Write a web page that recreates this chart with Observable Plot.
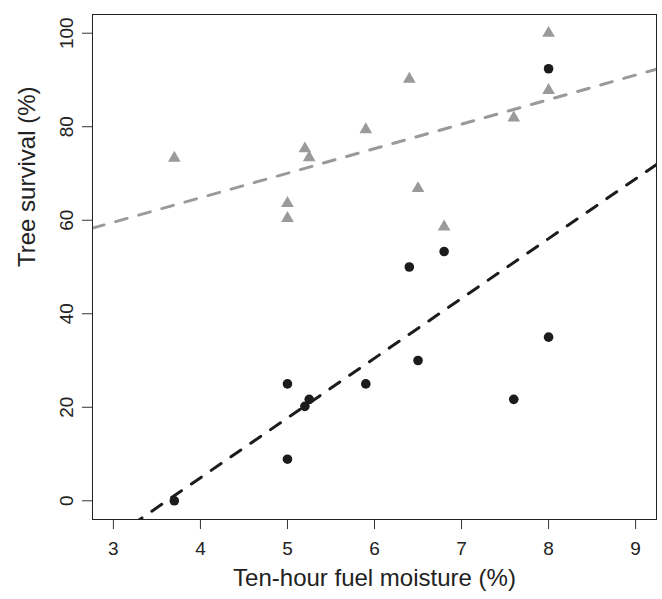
<!DOCTYPE html>
<html>
<head>
<meta charset="utf-8">
<script src="https://cdn.jsdelivr.net/npm/d3@7"></script>
<script src="https://cdn.jsdelivr.net/npm/@observablehq/plot@0.6"></script>
<style>
  html, body { margin: 0; padding: 0; background: #fff; }
  #chart svg { display: block; }
</style>
</head>
<body>
<div id="chart"></div>
<script>
// Ten-hour fuel moisture (%) for each site
const moisture = [3.7, 5, 5, 5.2, 5.25, 5.9, 6.4, 6.5, 6.8, 7.6, 8, 8];
// Tree survival (%) – black circles series
const survivalBlack = [0, 25, 8.9, 20.2, 21.7, 25, 50, 30, 53.3, 21.7, 92.4, 35];
// Tree survival (%) – grey triangles series
const survivalGrey = [73.3, 63.6, 60.4, 75.3, 73.4, 79.4, 90.2, 66.8, 58.6, 81.9, 100, 87.8];
// Tick labels
const xTicks = [3, 4, 5, 6, 7, 8, 9];
const yTicks = [0, 20, 40, 60, 80, 100];
const xTitle = "Ten-hour fuel moisture (%)";
const yTitle = "Tree survival (%)";

const xDomain = [2.76, 9.24];
const yDomain = [-4, 104];

const black = moisture.map((x, i) => ({x, y: survivalBlack[i]}));
const grey = moisture.map((x, i) => ({x, y: survivalGrey[i]}));

function fitLine(data) {
  const mx = d3.mean(data, d => d.x), my = d3.mean(data, d => d.y);
  const sxy = d3.sum(data, d => (d.x - mx) * (d.y - my));
  const sxx = d3.sum(data, d => (d.x - mx) ** 2);
  const b = sxy / sxx, a = my - b * mx;
  return xDomain.map(x => ({x, y: a + b * x}));
}

const GREY = "#9a9a9a";
const DARK = "#1c1c1c";
const FONT = "'Liberation Sans', Arial, Helvetica, sans-serif";

const chart = Plot.plot({
  width: 662,
  height: 599,
  marginLeft: 92,
  marginRight: 6,
  marginTop: 14,
  marginBottom: 80,
  style: {fontFamily: FONT, background: "#fff", color: "#222"},
  x: {domain: xDomain, label: null},
  y: {domain: yDomain, label: null},
  marks: [
    Plot.axisX({ticks: xTicks, tickSize: 10, tickPadding: 12, fontSize: 19, tickFormat: d => String(d), label: null, stroke: "#333"}),
    Plot.axisY({ticks: yTicks, tickSize: 10, tickFormat: () => "", label: null, stroke: "#333"}),
    Plot.text(yTicks, {y: d => d, text: d => String(d), frameAnchor: "left", dx: -26, rotate: -90, textAnchor: "middle", fontSize: 19, fill: "#222"}),
    Plot.text([xTitle], {frameAnchor: "bottom", dy: 66, fontSize: 24, fill: "#222"}),
    Plot.text([yTitle], {frameAnchor: "left", dx: -65, rotate: -90, fontSize: 24, fill: "#222"}),
    Plot.dot(grey, {x: "x", y: "y", symbol: "triangle", r: 4.7, fill: GREY, stroke: "none"}),
    Plot.dot(black, {x: "x", y: "y", symbol: "circle", r: 4.8, fill: DARK, stroke: "none"}),
    Plot.line(fitLine(grey), {x: "x", y: "y", stroke: GREY, strokeWidth: 3, strokeDasharray: "12,12", strokeLinecap: "round", clip: true}),
    Plot.line(fitLine(black), {x: "x", y: "y", stroke: DARK, strokeWidth: 3, strokeDasharray: "12,12", strokeLinecap: "round", clip: true}),
    Plot.frame({stroke: "#222", strokeWidth: 1})
  ]
});
document.getElementById("chart").appendChild(chart);
</script>
</body>
</html>
